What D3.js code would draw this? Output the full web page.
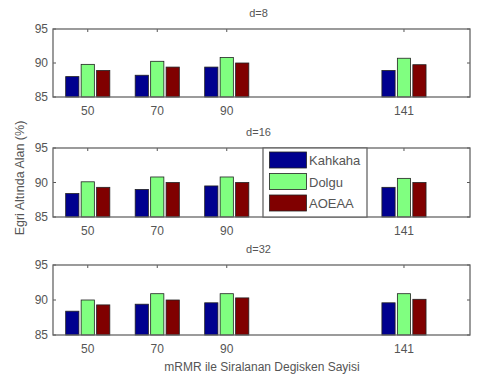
<!DOCTYPE html>
<html>
<head>
<meta charset="utf-8">
<script src="https://cdn.jsdelivr.net/npm/d3@7"></script>
<style>
  body { margin: 0; background: #fff; }
  text { font-family: "Liberation Sans", Arial, sans-serif; fill: #555; }
</style>
</head>
<body>
<div id="chart"></div>
<script>
// x positions (mRMR feature counts)
var features = [50, 70, 90, 141];
var seriesNames = ["Kahkaha", "Dolgu", "AOEAA"];
var panelTitles = ["d=8", "d=16", "d=32"];
var yTicks = [85, 90, 95];

// values per panel, per series
var d8 = [
  [88.0, 88.2, 89.4, 88.9],
  [89.8, 90.25, 90.8, 90.7],
  [88.9, 89.4, 90.0, 89.75]
];
var d16 = [
  [88.4, 89.0, 89.5, 89.3],
  [90.1, 90.8, 90.8, 90.6],
  [89.3, 90.0, 90.0, 90.0]
];
var d32 = [
  [88.4, 89.4, 89.6, 89.6],
  [90.0, 90.9, 90.9, 90.9],
  [89.3, 90.0, 90.3, 90.1]
];
var panelData = [d8, d16, d32];

var colors = ["#00008f", "#80ff80", "#800000"];

var W = 477, H = 378;
var left = 53, right = 470;
var panels = [
  { top: 29, bottom: 97 },
  { top: 148, bottom: 217 },
  { top: 265, bottom: 335 }
];

var svg = d3.select("#chart").append("svg")
  .attr("width", W).attr("height", H);

var x = d3.scaleLinear().domain([40, 160]).range([left, right]);
var barW = x(43.8) - x(40);
var offsets = [-4.45, 0, 4.45];

panels.forEach(function (p, pi) {
  var y = d3.scaleLinear().domain([85, 95]).range([p.bottom, p.top]);
  var g = svg.append("g");

  // bars
  panelData[pi].forEach(function (vals, si) {
    g.selectAll(".bar" + si)
      .data(vals)
      .enter()
      .append("rect")
      .attr("x", function (d, i) { return x(features[i] + offsets[si]) - barW / 2; })
      .attr("y", function (d) { return y(d); })
      .attr("width", barW)
      .attr("height", function (d) { return y(85) - y(d); })
      .attr("fill", colors[si])
      .attr("stroke", "#222")
      .attr("stroke-width", 0.8);
  });

  // inner ticks
  g.selectAll(".tt").data(features).enter().append("line")
    .attr("x1", function (d) { return x(d); }).attr("x2", function (d) { return x(d); })
    .attr("y1", p.top).attr("y2", p.top + 3)
    .attr("stroke", "#555");
  g.selectAll(".yt").data(yTicks).enter().append("line")
    .attr("x1", left).attr("x2", left + 3)
    .attr("y1", function (d) { return y(d); }).attr("y2", function (d) { return y(d); })
    .attr("stroke", "#555");
  g.selectAll(".yr").data(yTicks).enter().append("line")
    .attr("x1", right - 3).attr("x2", right)
    .attr("y1", function (d) { return y(d); }).attr("y2", function (d) { return y(d); })
    .attr("stroke", "#555");

  // box
  g.append("rect")
    .attr("x", left).attr("y", p.top)
    .attr("width", right - left).attr("height", p.bottom - p.top)
    .attr("fill", "none").attr("stroke", "#666").attr("stroke-width", 1.3);

  // y tick labels
  g.selectAll(".yl").data(yTicks).enter().append("text")
    .attr("x", left - 5)
    .attr("y", function (d) { return y(d) + 4; })
    .attr("text-anchor", "end")
    .style("font-size", "12px")
    .text(function (d) { return d; });

  // x tick labels
  g.selectAll(".xl").data(features).enter().append("text")
    .attr("x", function (d) { return x(d); })
    .attr("y", p.bottom + 18)
    .attr("text-anchor", "middle")
    .style("font-size", "12px")
    .text(function (d) { return d; });

  // title
  g.append("text")
    .attr("x", (left + right) / 2 - 3)
    .attr("y", p.top - 12)
    .attr("text-anchor", "middle")
    .style("font-size", "11px")
    .text(panelTitles[pi]);
});

// legend in middle panel
var lp = panels[1];
var lg = svg.append("g");
lg.append("rect")
  .attr("x", 263).attr("y", lp.top)
  .attr("width", 104).attr("height", lp.bottom - lp.top)
  .attr("fill", "#fff").attr("stroke", "#666").attr("stroke-width", 1.3);
seriesNames.forEach(function (name, i) {
  var yy = 152 + i * 21.5;
  lg.append("rect")
    .attr("x", 269.5).attr("y", yy)
    .attr("width", 37).attr("height", 16)
    .attr("fill", colors[i]).attr("stroke", "#222").attr("stroke-width", 0.8);
  lg.append("text")
    .attr("x", 309).attr("y", yy + 13)
    .style("font-size", "13px")
    .text(name);
});

// axis labels
svg.append("text")
  .attr("transform", "translate(24,178) rotate(-90)")
  .attr("text-anchor", "middle")
  .style("font-size", "12.5px")
  .text("Egri Altında Alan (%)");

svg.append("text")
  .attr("x", 262).attr("y", 371)
  .attr("text-anchor", "middle")
  .style("font-size", "12px")
  .text("mRMR ile Siralanan Degisken Sayisi");
</script>
</body>
</html>
